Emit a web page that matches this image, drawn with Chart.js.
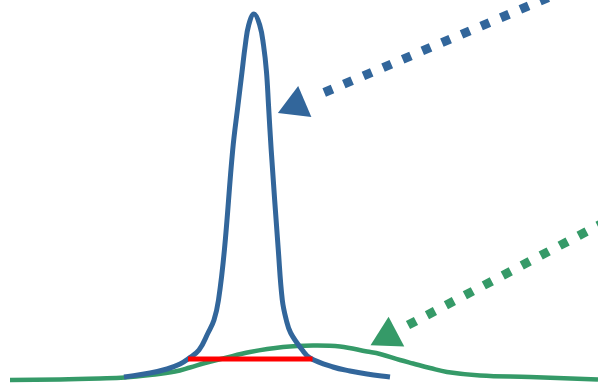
<!DOCTYPE html>
<html>
<head>
<meta charset="utf-8">
<script src="https://cdn.jsdelivr.net/npm/chart.js@4/dist/chart.umd.min.js"></script>
<style>
  html, body { margin: 0; padding: 0; background: #ffffff; }
  #wrap { width: 598px; height: 383px; }
</style>
</head>
<body>
<div id="wrap"><canvas id="peakCanvas" width="598" height="383"></canvas></div>
<script>
// narrow peak (blue)
const blueX = [124, 150, 167, 180, 188, 199, 208, 214, 218.5, 224.4, 232.7, 238, 242, 245.3, 248.7, 254, 259.7, 263.5, 266.5, 268.5, 271.2, 278.3, 282.3, 286.3, 290.7, 302.3, 310, 333, 350, 367, 390];
const blueY = [6, 10, 14, 19, 24, 33, 50, 63, 83, 133, 233, 278, 311, 338, 358, 369, 358, 338, 311, 278, 233, 133, 83, 63, 50, 33, 25, 16, 12, 9, 6];

// broad peak (green)
const greenX = [10, 60, 100, 125, 150, 175, 190, 205, 223, 250, 283, 313, 340, 367, 380, 400, 413, 430, 447, 480, 530, 598];
const greenY = [3, 3.5, 4.5, 5.5, 8, 11.5, 15.5, 20, 24.5, 31, 36, 37.5, 36.5, 31.5, 29, 23, 19.5, 15, 11, 7.5, 6, 3.5];

// width marker (red)
const redX = [188, 312.5];
const redY = [24, 24];

// dotted pointers and their heads
const blueArrowX = [324.2, 580];
const blueArrowY = [290.5, 398.8];
const blueHead = [{x: 295.8, y: 277.7}];
const greenArrowX = [408, 620];
const greenArrowY = [57.9, 169];
const greenHead = [{x: 387.8, y: 46.8}];

const BLUE = 'rgb(50,102,155)';
const GREEN = 'rgb(53,154,104)';
const RED = 'rgb(255,0,0)';

function pairs(xs, ys) {
    return xs.map((x, i) => ({x: x, y: ys[i]}));
}

new Chart(
    document.getElementById('peakCanvas'),
    {
        type: 'line',
        data: {
            datasets: [
                {
                    data: pairs(redX, redY),
                    borderColor: RED,
                    borderWidth: 5,
                    pointRadius: 0,
                    tension: 0,
                    order: 0
                },
                {
                    data: pairs(blueArrowX, blueArrowY),
                    borderColor: BLUE,
                    borderWidth: 9,
                    borderDash: [9, 12.3],
                    borderCapStyle: 'butt',
                    pointRadius: 0,
                    tension: 0,
                    order: 1
                },
                {
                    data: blueHead,
                    showLine: false,
                    pointStyle: 'triangle',
                    pointRadius: 19.5,
                    pointRotation: 247,
                    pointBackgroundColor: BLUE,
                    pointBorderWidth: 0,
                    order: 1
                },
                {
                    data: pairs(greenArrowX, greenArrowY),
                    borderColor: GREEN,
                    borderWidth: 9,
                    borderDash: [9, 12.4],
                    borderCapStyle: 'butt',
                    pointRadius: 0,
                    tension: 0,
                    order: 1
                },
                {
                    data: greenHead,
                    showLine: false,
                    pointStyle: 'triangle',
                    pointRadius: 19.5,
                    pointRotation: 242.3,
                    pointBackgroundColor: GREEN,
                    pointBorderWidth: 0,
                    order: 1
                },
                {
                    data: pairs(blueX, blueY),
                    borderColor: BLUE,
                    borderWidth: 5,
                    pointRadius: 0,
                    tension: 0.4,
                    order: 2
                },
                {
                    data: pairs(greenX, greenY),
                    borderColor: GREEN,
                    borderWidth: 4.5,
                    pointRadius: 0,
                    tension: 0.4,
                    order: 3
                }
            ]
        },
        options: {
            responsive: false,
            animation: false,
            layout: {padding: 0, autoPadding: false},
            plugins: {
                legend: {display: false},
                tooltip: {enabled: false}
            },
            scales: {
                x: {type: 'linear', min: 0, max: 598, display: false},
                y: {type: 'linear', min: 0, max: 383, display: false}
            }
        }
    }
);
</script>
</body>
</html>
